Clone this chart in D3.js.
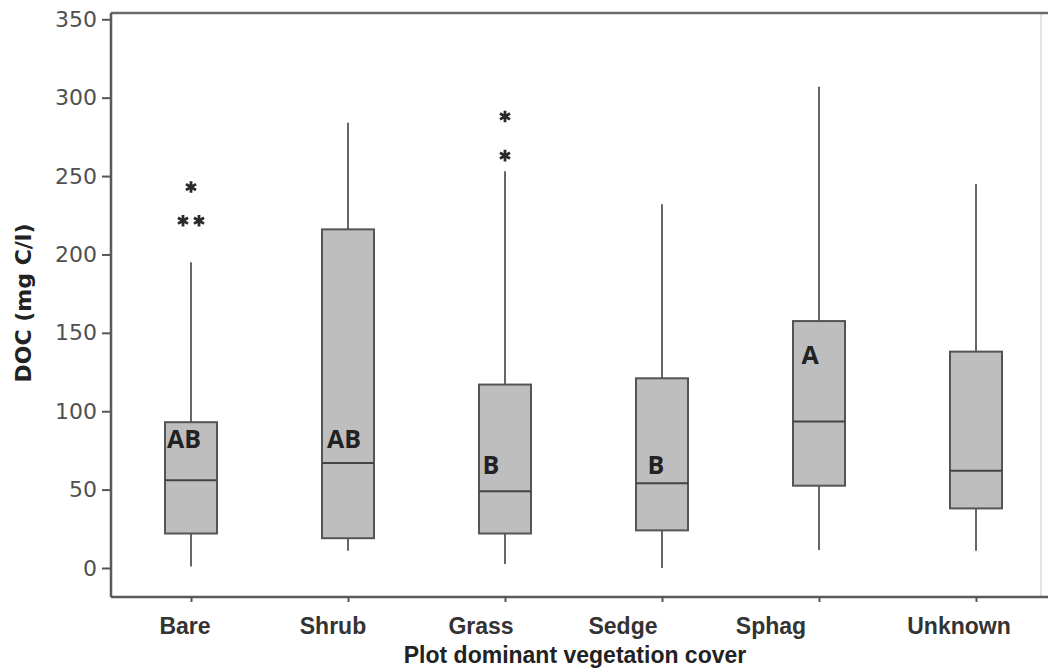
<!DOCTYPE html>
<html><head><meta charset="utf-8">
<script src="https://cdn.jsdelivr.net/npm/d3@7"></script>
<style>body{margin:0;background:#fff}svg{display:block}</style>
</head><body>
<svg id="chart" width="1048" height="670"></svg>
<script>
const categories = ["Bare","Shrub","Grass","Sedge","Sphag","Unknown"];
const whiskerLow  = [1, 11, 2.5, 0, 11.5, 11];
const q1          = [22, 19, 22, 24, 52.5, 38];
const median      = [56, 67, 49, 54, 93.5, 62];
const q3          = [93, 216, 117, 121, 157.5, 138];
const whiskerHigh = [195, 284, 253, 232, 307, 245];
const outliers    = [[243, 221.5, 221.5], [], [288, 263], [], [], []];
const groupLetters = ["AB","AB","B","B","A",""];
const letterValue  = [82, 82, 66, 66, 136, null];
const yTicks = [0, 50, 100, 150, 200, 250, 300, 350];
const xTitle = "Plot dominant vegetation cover";
const yTitle = "DOC (mg C/l)";

const svg = d3.select("#chart");
const pLeft = 111, pRight = 1041, pTop = 13, pBottom = 597;
const y = d3.scaleLinear().domain([-18.5, 354]).range([pBottom, pTop]);
const x = d3.scalePoint().domain(categories).range([191, 976]);
const boxW = 52;

const data = categories.map((c, i) => ({c, lo: whiskerLow[i], q1: q1[i], med: median[i], q3: q3[i], hi: whiskerHigh[i], out: outliers[i], letter: groupLetters[i], lv: letterValue[i]}));

// frame
svg.append("rect").attr("x", pLeft).attr("y", pTop).attr("width", pRight - pLeft).attr("height", pBottom - pTop)
  .attr("fill", "none").attr("stroke", "#c8c8c8").attr("stroke-width", 1);
svg.append("line").attr("x1", pLeft).attr("x2", 1048).attr("y1", pTop).attr("y2", pTop).attr("stroke", "#6a6a6a").attr("stroke-width", 2.5);
svg.append("line").attr("x1", pLeft).attr("x2", pLeft).attr("y1", pTop).attr("y2", pBottom).attr("stroke", "#5a5a5a").attr("stroke-width", 2.5);
svg.append("line").attr("x1", pLeft).attr("x2", 1048).attr("y1", pBottom).attr("y2", pBottom).attr("stroke", "#5a5a5a").attr("stroke-width", 2.5);

// y axis
const yAxis = d3.axisLeft(y).tickValues(yTicks).tickSize(8).tickPadding(5);
const gy = svg.append("g").attr("transform", `translate(${pLeft - 1},0)`).call(yAxis);
gy.select(".domain").remove();
gy.selectAll(".tick line").attr("stroke", "#555").attr("stroke-width", 2);
gy.selectAll(".tick text").attr("fill", "#505050").style("font-family", "DejaVu Sans").style("font-size", "22px");

// x axis ticks
const xAxis = d3.axisBottom(x).tickSize(5).tickFormat("");
const gx = svg.append("g").attr("transform", `translate(0,${pBottom})`).call(xAxis);
gx.select(".domain").remove();
gx.selectAll(".tick line").attr("stroke", "#555").attr("stroke-width", 2);

// x labels (offsets reproduce the reference's placement)
const labelShift = [-6, -15, -24, -39, -48, -17];
svg.append("g").selectAll("text").data(categories).join("text")
  .attr("x", (d, i) => x(d) + labelShift[i]).attr("y", 634)
  .attr("text-anchor", "middle").attr("fill", "#333")
  .style("font-family", "Liberation Sans").style("font-weight", "bold").style("font-size", "23px")
  .text(d => d);

svg.append("text").attr("x", 575).attr("y", 663).attr("text-anchor", "middle").attr("fill", "#222")
  .style("font-family", "Liberation Sans").style("font-weight", "bold").style("font-size", "23px").text(xTitle);
svg.append("text").attr("transform", `translate(31,303) rotate(-90)`).attr("text-anchor", "middle").attr("fill", "#222")
  .style("font-family", "DejaVu Sans").style("font-weight", "bold").style("font-size", "22px").text(yTitle);

// boxes
const g = svg.append("g");
const bx = g.selectAll("g.box").data(data).join("g").attr("class", "box");
bx.append("line").attr("x1", d => x(d.c)).attr("x2", d => x(d.c)).attr("y1", d => y(d.hi)).attr("y2", d => y(d.q3))
  .attr("stroke", "#666").attr("stroke-width", 2);
bx.append("line").attr("x1", d => x(d.c)).attr("x2", d => x(d.c)).attr("y1", d => y(d.q1)).attr("y2", d => y(d.lo))
  .attr("stroke", "#666").attr("stroke-width", 2);
bx.append("rect").attr("x", d => x(d.c) - boxW / 2).attr("width", boxW)
  .attr("y", d => y(d.q3)).attr("height", d => y(d.q1) - y(d.q3))
  .attr("fill", "#bebebe").attr("stroke", "#555").attr("stroke-width", 2);
bx.append("line").attr("x1", d => x(d.c) - boxW / 2).attr("x2", d => x(d.c) + boxW / 2)
  .attr("y1", d => y(d.med)).attr("y2", d => y(d.med)).attr("stroke", "#444").attr("stroke-width", 2);

// outliers (duplicates placed side by side)
const star = d3.symbol().type(d3.symbolAsterisk).size(95);
data.forEach(d => {
  const counts = d3.rollup(d.out, v => v.length, v => v);
  counts.forEach((n, v) => {
    for (let k = 0; k < n; k++) {
      const dx = (k - (n - 1) / 2) * 16;
      g.append("path").attr("d", star).attr("transform", `translate(${x(d.c) + dx},${y(v)})`)
        .attr("fill", "none").attr("stroke", "#2a2a2a").attr("stroke-width", 2.8);
    }
  });
});

// group letters
const letterShift = [-7, -4, -14, -6, -9, 0];
svg.append("g").selectAll("text").data(data.filter(d => d.letter)).join("text")
  .attr("x", d => x(d.c) + letterShift[categories.indexOf(d.c)]).attr("y", d => y(d.lv) + 9)
  .attr("text-anchor", "middle").attr("fill", "#222")
  .style("font-family", "Open Sans").style("font-weight", "bold").style("font-size", "25px")
  .text(d => d.letter);
</script>
</body></html>
